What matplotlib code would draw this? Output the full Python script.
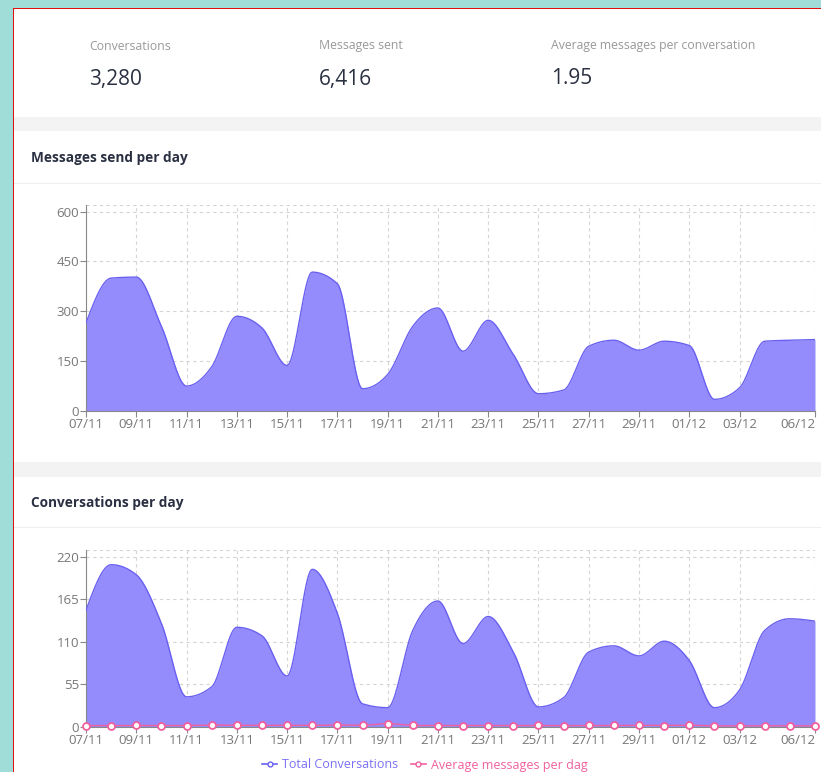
import matplotlib.pyplot as plt
import numpy as np
from matplotlib.patches import Rectangle
from matplotlib.lines import Line2D

# data
days = ['07/11', '08/11', '09/11', '10/11', '11/11', '12/11', '13/11', '14/11', '15/11', '16/11',
        '17/11', '18/11', '19/11', '20/11', '21/11', '22/11', '23/11', '24/11', '25/11', '26/11',
        '27/11', '28/11', '29/11', '30/11', '01/12', '02/12', '03/12', '04/12', '05/12', '06/12']
messages = [265, 400, 403, 255, 75, 133, 285, 250, 137, 418,
            383, 67, 110, 255, 310, 180, 273, 170, 52, 63,
            195, 213, 183, 210, 197, 35, 70, 210, 213, 215]
conversations = [151, 210, 197, 134, 39, 52, 129, 118, 66, 204,
                 147, 30, 25, 125, 163, 108, 143, 97, 26, 38,
                 97, 105, 92, 111, 86, 25, 48, 125, 140, 137]
avg_per_day = [1.8, 1.9, 2.0, 1.9, 1.9, 2.6, 2.2, 2.1, 2.1, 2.0,
               2.6, 2.2, 4.4, 2.0, 1.9, 1.7, 1.9, 1.8, 2.0, 1.7,
               2.0, 2.0, 2.0, 1.9, 2.3, 1.4, 1.5, 1.7, 1.5, 1.6]
stat_labels = ['Conversations', 'Messages sent', 'Average messages per conversation']
stat_values = ['3,280', '6,416', '1.95']
tick_idx = [0, 2, 4, 6, 8, 10, 12, 14, 16, 18, 20, 22, 24, 26, 29]

W, H = 821, 772
FONT = 'Open Sans'
FILL = '#948cfc'
STROKE = '#6a60f0'
PINK = '#f0609e'
GRAY = '#777777'


def monotone(x, y, n=20):
    # d3 curveMonotoneX style smoothing between the points
    x = np.asarray(x, float)
    y = np.asarray(y, float)
    h = np.diff(x)
    s = np.diff(y) / h
    t = np.zeros_like(y)
    for i in range(1, len(y) - 1):
        p = (s[i - 1] * h[i] + s[i] * h[i - 1]) / (h[i - 1] + h[i])
        t[i] = (np.sign(s[i - 1]) + np.sign(s[i])) * min(abs(s[i - 1]), abs(s[i]), 0.5 * abs(p))
    t[0] = (3 * s[0] - t[1]) / 2
    t[-1] = (3 * s[-1] - t[-2]) / 2
    xs, ys = [], []
    for i in range(len(h)):
        u = np.linspace(0, 1, n, endpoint=False)
        h00 = 2 * u**3 - 3 * u**2 + 1
        h10 = u**3 - 2 * u**2 + u
        h01 = -2 * u**3 + 3 * u**2
        h11 = u**3 - u**2
        xs.append(x[i] + u * h[i])
        ys.append(h00 * y[i] + h10 * h[i] * t[i] + h01 * y[i + 1] + h11 * h[i] * t[i + 1])
    xs.append([x[-1]])
    ys.append([y[-1]])
    return np.concatenate(xs), np.concatenate(ys)


def fx(px):
    return px / W


def fy(py):
    return 1 - py / H


def box(x0, y0, x1, y1, color, z=-5):
    fig.patches.append(Rectangle((fx(x0), fy(y1)), fx(x1) - fx(x0), fy(y0) - fy(y1),
                                 transform=fig.transFigure, color=color, zorder=z, lw=0))


fig = plt.figure(figsize=(W / 100, H / 100), dpi=100)
fig.patch.set_facecolor('#f3f3f3')

# page background and cards
box(0, 0, 13, H, '#a0dcd8')
box(0, 0, W, 8, '#a0dcd8')
box(13, 8, 14, H, '#e01010', -4)
box(13, 8, W, 9, '#e01010', -4)
box(14, 9, W, 117, 'white')
box(14, 131, W, 462, 'white')
box(14, 477, W, H, 'white')
box(14, 183, W, 184, '#eeeeee', -4)
box(14, 527, W, 528, '#eeeeee', -4)

for i, (lab, val) in enumerate(zip(stat_labels, stat_values)):
    x = [89, 319, 551][i]
    fig.text(fx(x), fy(46), lab, fontsize=8.8, color='#999999', family=FONT, va='center')
    fig.text(fx(x), fy(79), val, fontsize=15, color='#2a3042', family=FONT, va='center')

fig.text(fx(31), fy(158), 'Messages send per day', fontsize=9.8, fontweight='bold',
         color='#2a3042', family=FONT, va='center')
fig.text(fx(31), fy(503), 'Conversations per day', fontsize=9.8, fontweight='bold',
         color='#2a3042', family=FONT, va='center')

x = np.arange(len(days))


def style(ax, yticks, ytop):
    ax.set_zorder(2)
    ax.set_facecolor('none')
    ax.set_xlim(0, len(days) - 1)
    ax.set_ylim(0, ytop)
    ax.set_yticks(yticks)
    ax.set_xticks(tick_idx)
    ax.set_xticklabels([days[i] for i in tick_idx])
    ax.grid(True, color='#d4d4d4', linestyle=(0, (3, 3)), lw=0.8)
    ax.axhline(ytop, color='#d4d4d4', linestyle=(0, (3, 3)), lw=0.8)
    for s in ['top', 'right']:
        ax.spines[s].set_visible(False)
    for s in ['left', 'bottom']:
        ax.spines[s].set_color('#888888')
    ax.tick_params(colors='#888888', labelcolor=GRAY, labelsize=9.5, length=4, pad=1)
    for lab in ax.get_xticklabels() + ax.get_yticklabels():
        lab.set_family(FONT)
    ax.get_xticklabels()[-1].set_horizontalalignment('right')


ax1 = fig.add_axes([fx(86), fy(411), fx(815) - fx(86), fy(205) - fy(411)])
cx, cy = monotone(x, messages)
ax1.fill_between(cx, cy, color=FILL, lw=0, zorder=2)
ax1.plot(cx, cy, color=STROKE, lw=1, zorder=3)
style(ax1, [0, 150, 300, 450, 600], 620)

ax2 = fig.add_axes([fx(86), fy(727), fx(815) - fx(86), fy(550) - fy(727)])
cx, cy = monotone(x, conversations)
ax2.fill_between(cx, cy, color=FILL, lw=0, zorder=2)
ax2.plot(cx, cy, color=STROKE, lw=1, zorder=3)
px, py = monotone(x, avg_per_day)
ax2.plot(px, py, color=PINK, lw=1, zorder=4)
ax2.plot(x, avg_per_day, 'o', ms=5, mfc='white', mec=PINK, mew=1.3, zorder=5, clip_on=False)
style(ax2, [0, 55, 110, 165, 220], 229)

handles = [Line2D([], [], color=STROKE, marker='o', ms=3.5, mfc='white', mec=STROKE, lw=1.2),
           Line2D([], [], color=PINK, marker='o', ms=3.5, mfc='white', mec=PINK, lw=1.2)]
leg = fig.legend(handles, ['Total Conversations', 'Average messages per dag'], loc='center',
                 bbox_to_anchor=(fx(425), fy(765)), ncol=2, frameon=False,
                 handlelength=1.2, handletextpad=0.4, columnspacing=1.0, prop={'family': FONT, 'size': 9})
leg.get_texts()[0].set_color('#7b70f5')
leg.get_texts()[1].set_color(PINK)

fig.savefig('out.png', dpi=100)
